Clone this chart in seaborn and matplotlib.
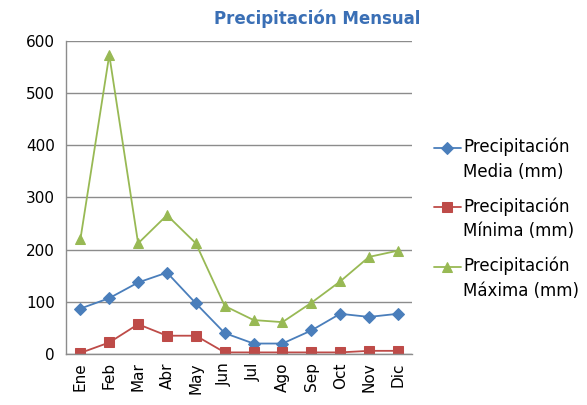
import numpy as np
import pandas as pd
import matplotlib
matplotlib.use("Agg")
import matplotlib.pyplot as plt
import seaborn as sns

meses = ["Ene", "Feb", "Mar", "Abr", "May", "Jun", "Jul", "Ago", "Sep", "Oct", "Nov", "Dic"]
media = [87, 107, 137, 156, 97, 40, 20, 20, 45, 77, 71, 77]
minima = [2, 22, 57, 35, 35, 3, 3, 3, 3, 3, 6, 6]
maxima = [220, 573, 212, 266, 212, 92, 65, 61, 98, 139, 186, 198]

series = ["Precipitación\nMedia (mm)", "Precipitación\nMínima (mm)", "Precipitación\nMáxima (mm)"]
colores = ["#4A7EBB", "#BE4B48", "#98B954"]
marcadores = ["D", "s", "^"]

sns.set_style("white")
plt.rcParams["font.family"] = ["DejaVu Sans"]
plt.rcParams["text.color"] = "black"

fig = plt.figure(figsize=(5.87, 4.05), dpi=100)
ax = fig.add_axes([0.1124, 0.126, 0.590, 0.773])

for nombre, valores, c, m in zip(series, [media, minima, maxima], colores, marcadores):
    df = pd.DataFrame({"mes": meses, "mm": valores})
    sns.lineplot(data=df, x="mes", y="mm", color=c, marker=m, markersize=7 if m != "D" else 6,
                 markeredgecolor=c, linewidth=1.3, label=nombre, ax=ax, sort=False)

ax.set_xlim(-0.5, len(meses) - 0.5)
ax.set_ylim(0, 600)
ax.set_yticks(range(0, 601, 100))
ax.yaxis.grid(True, color="#8C8C8C", linewidth=1)
ax.set_axisbelow(True)
ax.set_xlabel("")
ax.set_ylabel("")

ax.set_xticks(range(len(meses)))
ax.set_xticklabels(meses, rotation=90, fontsize=11)
ax.tick_params(axis="x", which="major", length=0, pad=6, labelcolor="black")
ax.set_xticks(np.arange(-0.5, len(meses), 1), minor=True)
ax.tick_params(axis="x", which="minor", length=6, color="#8C8C8C", width=1)
ax.tick_params(axis="y", length=5, color="#8C8C8C", width=1, labelsize=11, pad=3, labelcolor="black")

for s in ["top", "right"]:
    ax.spines[s].set_visible(False)
for s in ["left", "bottom"]:
    ax.spines[s].set_color("#8C8C8C")
    ax.spines[s].set_linewidth(1)

leg = ax.legend(loc="center left", bbox_to_anchor=(0.728, 0.46), bbox_transform=fig.transFigure,
                frameon=False, fontsize=12, handlelength=1.6, handletextpad=0.15,
                labelspacing=1.0, borderaxespad=0)
for t in leg.get_texts():
    t.set_linespacing(1.45)
    t.set_color("black")
# align the handle with the first line of each label, as Excel does
for ln in leg.get_lines():
    ln.set_ydata(np.asarray(ln.get_ydata()) + 9.0)

fig.text(0.54, 0.953, "Precipitación Mensual", ha="center", va="center",
         fontsize=12, fontweight="bold", color="#3A6FB5")

fig.savefig("out.png", dpi=100)
